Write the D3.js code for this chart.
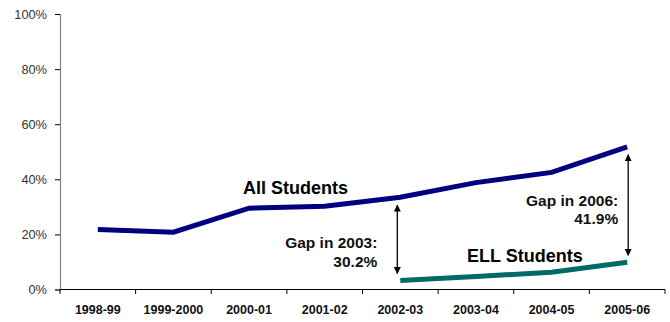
<!DOCTYPE html>
<html>
<head>
<meta charset="utf-8">
<script src="https://cdn.jsdelivr.net/npm/d3@7/dist/d3.min.js"></script>
<style>
  html, body { margin: 0; padding: 0; background: #fff; }
  svg { display: block; font-family: Arial, "Liberation Sans", sans-serif; }
</style>
</head>
<body>
<svg id="chart" width="670" height="322"></svg>
<script>
// School years on the x axis
const years = ["1998-99", "1999-2000", "2000-01", "2001-02", "2002-03", "2003-04", "2004-05", "2005-06"];

// Share of students meeting the standard
const allStudents = [0.218, 0.208, 0.295, 0.302, 0.335, 0.388, 0.425, 0.518];
// ELL results start in 2002-03
const ellYears = ["2002-03", "2003-04", "2004-05", "2005-06"];
const ellStudents = [0.033, 0.047, 0.063, 0.099];

const yTicks = [0, 0.2, 0.4, 0.6, 0.8, 1.0];

// Gap call-outs: year, gap label lines
const gapYears = ["2002-03", "2005-06"];
const gapTitles = ["Gap in 2003:", "Gap in 2006:"];
const gapValues = ["30.2%", "41.9%"];

(function draw() {
  const svg = d3.select("#chart");
  const mLeft = 60, mRight = 665, mTop = 14, mBottom = 289.5;

  const x = d3.scaleBand().domain(years).range([mLeft, mRight]).padding(0);
  const y = d3.scaleLinear().domain([0, 1]).range([mBottom, mTop]);
  const cx = d => x(d) + x.bandwidth() / 2;

  // Y axis
  const yAxis = svg.append("g")
    .attr("transform", `translate(${mLeft},0)`)
    .call(d3.axisLeft(y).tickValues(yTicks).tickFormat(d3.format(".0%")).tickSize(5).tickPadding(8));
  yAxis.select(".domain").attr("stroke", "#808080").attr("stroke-width", 1.2);
  yAxis.selectAll(".tick line").attr("stroke", "#000");
  yAxis.selectAll(".tick text").attr("font-size", "12.8px").attr("fill", "#333")
    .attr("font-family", "Arial, 'Liberation Sans', sans-serif");

  // X axis with tick marks between categories
  const xAxis = svg.append("g")
    .attr("transform", `translate(0,${mBottom})`);
  xAxis.append("line")
    .attr("x1", mLeft).attr("x2", mRight)
    .attr("stroke", "#000").attr("stroke-width", 1.2);
  const edges = years.map(d => x(d)).concat([mRight]);
  xAxis.selectAll("line.tk").data(edges).join("line")
    .attr("class", "tk")
    .attr("x1", d => d).attr("x2", d => d)
    .attr("y1", 0).attr("y2", 4.5)
    .attr("stroke", "#000");
  xAxis.selectAll("text").data(years).join("text")
    .attr("x", d => cx(d)).attr("y", 24.5)
    .attr("text-anchor", "middle")
    .attr("font-size", "12.5px").attr("font-weight", "bold").attr("fill", "#111")
    .text(d => d);

  // Lines
  const line = d3.line().x(d => cx(d[0])).y(d => y(d[1]));
  svg.append("path")
    .datum(years.map((d, i) => [d, allStudents[i]]))
    .attr("d", line)
    .attr("fill", "none").attr("stroke", "#000080").attr("stroke-width", 5);
  svg.append("path")
    .datum(ellYears.map((d, i) => [d, ellStudents[i]]))
    .attr("d", line)
    .attr("fill", "none").attr("stroke", "#006b66").attr("stroke-width", 5);

  // Series labels
  svg.append("text").attr("x", 243).attr("y", 194)
    .attr("font-size", "18px").attr("font-weight", "bold").attr("fill", "#000")
    .text("All Students");
  svg.append("text").attr("x", 467).attr("y", 262)
    .attr("font-size", "18px").attr("font-weight", "bold").attr("fill", "#000")
    .text("ELL Students");

  // Arrowhead markers
  const defs = svg.append("defs");
  ["start", "end"].forEach(k => {
    defs.append("marker")
      .attr("id", "arr-" + k)
      .attr("viewBox", "0 0 10 10")
      .attr("refX", 9).attr("refY", 5)
      .attr("markerWidth", 7).attr("markerHeight", 7)
      .attr("markerUnits", "userSpaceOnUse")
      .attr("orient", k === "start" ? "auto-start-reverse" : "auto")
      .append("path").attr("d", "M0,0 L10,5 L0,10 Z").attr("fill", "#000");
  });

  // Gap arrows and labels
  const arrowShift = [-3, 1];
  const labelGap = [20, 10];
  const labelDrop = [9.5, 1.5];
  const lineStep = [19, 18];
  gapYears.forEach((yr, i) => {
    const a = allStudents[years.indexOf(yr)];
    const e = ellStudents[ellYears.indexOf(yr)];
    const ax = cx(yr) + arrowShift[i];
    svg.append("line")
      .attr("x1", ax).attr("x2", ax)
      .attr("y1", y(a) + 8).attr("y2", y(e) - 7)
      .attr("stroke", "#000").attr("stroke-width", 1.3)
      .attr("marker-start", "url(#arr-start)")
      .attr("marker-end", "url(#arr-end)");
    const ty = (y(a) + y(e)) / 2 + labelDrop[i];
    const t = svg.append("text")
      .attr("text-anchor", "end")
      .attr("font-size", "15.5px").attr("font-weight", "bold").attr("fill", "#111");
    t.append("tspan").attr("x", ax - labelGap[i]).attr("y", ty).text(gapTitles[i]);
    t.append("tspan").attr("x", ax - labelGap[i]).attr("dy", lineStep[i]).text(gapValues[i]);
  });
})();
</script>
</body>
</html>
